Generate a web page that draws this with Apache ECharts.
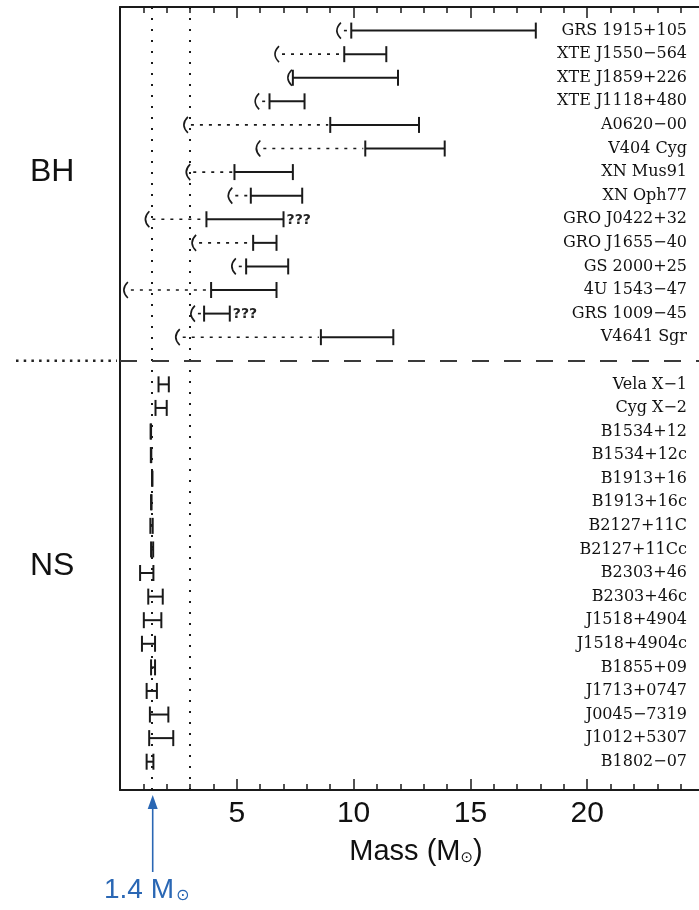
<!DOCTYPE html>
<html>
<head>
<meta charset="utf-8">
<script src="https://cdn.jsdelivr.net/npm/echarts@6/dist/echarts.min.js"></script>
<style>
html,body{margin:0;padding:0;background:#fff}
#chart{width:699px;height:910px}
</style>
</head>
<body>
<div id="chart"></div>
<script>
// Black-hole candidates: mass-function lower limit and mass range (solar masses)
const bhNames = ['GRS 1915+105','XTE J1550\u2212564','XTE J1859+226','XTE J1118+480','A0620\u221200','V404 Cyg','XN Mus91','XN Oph77','GRO J0422+32','GRO J1655\u221240','GS 2000+25','4U 1543\u221247','GRS 1009\u221245','V4641 Sgr'];
const bhLimit = [9.2, 6.55, 7.1, 5.7, 2.65, 5.75, 2.75, 4.55, 1.0, 3.0, 4.7, 0.08, 2.95, 2.3];
const bhLow   = [9.9, 9.6, 7.4, 6.4, 9.0, 10.5, 4.9, 5.6, 3.7, 5.7, 5.4, 3.9, 3.6, 8.6];
const bhHigh  = [17.8, 11.4, 11.9, 7.9, 12.8, 13.9, 7.4, 7.8, 7.0, 6.7, 7.2, 6.7, 4.7, 11.7];
const bhNote  = ['', '', '', '', '', '', '', '', '???', '', '', '', '???', ''];

// Neutron stars: mass range (solar masses)
const nsNames = ['Vela X\u22121','Cyg X\u22122','B1534+12','B1534+12c','B1913+16','B1913+16c','B2127+11C','B2127+11Cc','B2303+46','B2303+46c','J1518+4904','J1518+4904c','B1855+09','J1713+0747','J0045\u22127319','J1012+5307','B1802\u221207'];
const nsLow  = [1.65, 1.52, 1.31, 1.32, 1.37, 1.33, 1.30, 1.33, 0.86, 1.21, 1.02, 0.94, 1.33, 1.14, 1.28, 1.25, 1.14];
const nsHigh = [2.09, 2.00, 1.33, 1.34, 1.39, 1.35, 1.40, 1.42, 1.43, 1.83, 1.77, 1.50, 1.50, 1.58, 2.07, 2.28, 1.43];

// Reference masses
const refLines = [1.35, 3.0];
const canonicalMass = 1.4;
const xTicks = [5, 10, 15, 20];

const ink = '#1a1a1a';
const nsOffset = bhNames.length + 1;   // one empty row separates the two groups
const separatorRow = bhNames.length;

const chart = echarts.init(document.getElementById('chart'));

function errorBar(api, lo, hi, row, capH, width) {
  const a = api.coord([lo, row]);
  const b = api.coord([hi, row]);
  const y = a[1];
  const st = {stroke: ink, lineWidth: width, fill: null};
  return [
    {type: 'line', shape: {x1: a[0], y1: y, x2: b[0], y2: y}, style: st},
    {type: 'line', shape: {x1: a[0], y1: y - capH, x2: a[0], y2: y + capH}, style: st},
    {type: 'line', shape: {x1: b[0], y1: y - capH, x2: b[0], y2: y + capH}, style: st}
  ];
}

function nameLabel(api, text, y) {
  return {
    type: 'text',
    style: {
      x: api.getWidth() - 12, y: y, text: text,
      align: 'right', verticalAlign: 'middle',
      font: '16px "DejaVu Serif"', fill: '#111'
    }
  };
}

function renderBH(params, api) {
  const row = api.value(0);
  const lim = api.value(1), lo = api.value(2), hi = api.value(3);
  const pLim = api.coord([lim, row]);
  const pLo = api.coord([lo, row]);
  const pHi = api.coord([hi, row]);
  const y = pLo[1];
  const children = errorBar(api, lo, hi, row, 8, 2);
  // lower-limit bracket
  children.push({
    type: 'bezierCurve',
    shape: {x1: pLim[0] + 6, y1: y - 8, x2: pLim[0] + 6, y2: y + 8, cpx1: pLim[0] - 2, cpy1: y},
    style: {stroke: ink, lineWidth: 1.6, fill: null}
  });
  if (pLo[0] - pLim[0] > 12) {
    children.push({
      type: 'line',
      shape: {x1: pLim[0] + 9, y1: y, x2: pLo[0] - 2, y2: y},
      style: {stroke: ink, lineWidth: 1.6, lineDash: [3, 6]}
    });
  }
  const note = bhNote[params.dataIndex];
  if (note) {
    children.push({
      type: 'text',
      style: {x: pHi[0] + 3, y: y + 1, text: note, align: 'left', verticalAlign: 'middle',
              font: 'bold 14px "DejaVu Sans"', fill: '#222'}
    });
  }
  children.push(nameLabel(api, bhNames[params.dataIndex], y));
  return {type: 'group', children: children};
}

function renderNS(params, api) {
  const row = api.value(0);
  const lo = api.value(1), hi = api.value(2);
  const y = api.coord([lo, row])[1];
  const children = errorBar(api, lo, hi, row, 8, 2);
  children.push(nameLabel(api, nsNames[params.dataIndex], y));
  return {type: 'group', children: children};
}

const axisCommon = {
  type: 'value', min: 0, max: 25, interval: 5,
  axisLine: {show: true, onZero: false, lineStyle: {color: ink, width: 2}},
  axisTick: {show: true, inside: true, length: 11, lineStyle: {color: ink, width: 1.5}},
  minorTick: {show: true, splitNumber: 5, length: 6, lineStyle: {color: ink, width: 1.5}},
  splitLine: {show: false},
  minorSplitLine: {show: false}
};

const option = {
  animation: false,
  backgroundColor: '#ffffff',
  grid: {left: 120, top: 7, width: 584, height: 783, containLabel: false, outerBoundsMode: 'none'},
  xAxis: [
    Object.assign({}, axisCommon, {
      position: 'bottom',
      axisLabel: {
        show: true, fontSize: 30, color: '#111', fontFamily: 'Liberation Sans', margin: 9,
        formatter: v => (xTicks.indexOf(v) >= 0 ? String(v) : '')
      }
    }),
    Object.assign({}, axisCommon, {position: 'top', axisLabel: {show: false}})
  ],
  yAxis: {
    type: 'value', min: -1, max: 32.2, inverse: true,
    axisLine: {show: true, onZero: false, lineStyle: {color: ink, width: 2}},
    axisTick: {show: false}, axisLabel: {show: false}, splitLine: {show: false}
  },
  series: [
    {
      type: 'custom',
      name: 'BH',
      renderItem: renderBH,
      encode: {x: [1, 2, 3], y: 0},
      clip: false,
      data: bhNames.map((n, i) => [i, bhLimit[i], bhLow[i], bhHigh[i]]),
      markLine: {
        silent: true,
        symbol: ['none', 'none'],
        label: {show: false},
        data: refLines.map(v => ({xAxis: v, lineStyle: {color: ink, width: 2, type: [2, 9]}}))
          .concat([{yAxis: separatorRow, lineStyle: {color: '#3a3a3a', width: 2, type: [17, 15]}}])
      }
    },
    {
      type: 'custom',
      name: 'NS',
      renderItem: renderNS,
      encode: {x: [1, 2], y: 0},
      clip: false,
      data: nsNames.map((n, i) => [nsOffset + i, nsLow[i], nsHigh[i]])
    }
  ]
};

chart.setOption(option);

// Annotations placed through the axis scales
const sepY = chart.convertToPixel({gridIndex: 0}, [0, separatorRow])[1];
const arrowX = chart.convertToPixel({gridIndex: 0}, [canonicalMass, 0])[0];
const bhMid = chart.convertToPixel({gridIndex: 0}, [0, 6.0])[1];
const nsMid = chart.convertToPixel({gridIndex: 0}, [0, nsOffset + 7.7])[1];
const blue = '#2a67b4';

chart.setOption({
  graphic: [
    {type: 'line', shape: {x1: 16, y1: sepY, x2: 117, y2: sepY},
     style: {stroke: '#222', lineWidth: 2.5, lineDash: [2.5, 5.2]}},
    {type: 'text', style: {x: 30, y: bhMid, text: 'BH', verticalAlign: 'middle',
     font: '32px "Liberation Sans"', fill: '#111'}},
    {type: 'text', style: {x: 30, y: nsMid, text: 'NS', verticalAlign: 'middle',
     font: '32px "Liberation Sans"', fill: '#111'}},
    {type: 'text', style: {x: 416, y: 852, align: 'center', verticalAlign: 'middle',
     text: '{a|Mass (M}{s|\u2299}{a|)}',
     rich: {a: {fontSize: 29, fontFamily: 'Liberation Sans', fill: '#111'},
            s: {fontSize: 15, fontFamily: 'DejaVu Sans', fill: '#111', padding: [12, 0, 0, 0]}}}},
    {type: 'line', shape: {x1: arrowX, y1: 872, x2: arrowX, y2: 806},
     style: {stroke: blue, lineWidth: 1.6}},
    {type: 'polygon', shape: {points: [[arrowX, 795], [arrowX - 5, 809], [arrowX + 5, 809]]},
     style: {fill: blue}},
    {type: 'text', style: {x: 104, y: 890, verticalAlign: 'middle',
     text: '{a|1.4 M}{s|\u2299}',
     rich: {a: {fontSize: 28, fontFamily: 'Liberation Sans', fill: blue},
            s: {fontSize: 16, fontFamily: 'DejaVu Sans', fill: blue, padding: [12, 0, 0, 2]}}}}
  ]
});
</script>
</body>
</html>
